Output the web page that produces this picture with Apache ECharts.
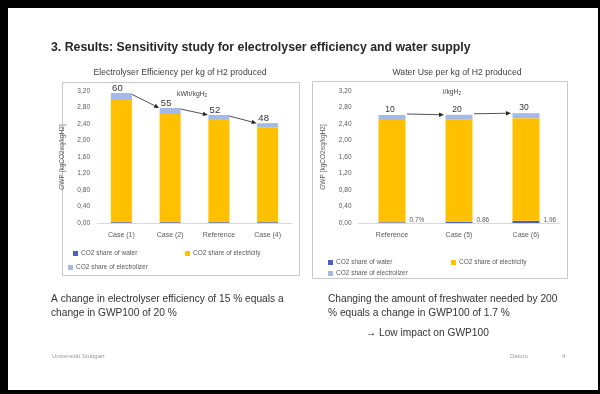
<!DOCTYPE html>
<html>
<head>
<meta charset="utf-8">
<script src="https://cdn.jsdelivr.net/npm/echarts@6/dist/echarts.min.js"></script>
<style>
html, body { margin: 0; padding: 0; background: #fff; }
#main { width: 600px; height: 394px; }
</style>
</head>
<body>
<div id="main"></div>
<script>
// electrolyser efficiency chart
var effCats = ['Case (1)', 'Case (2)', 'Reference', 'Case (4)'];
var effWater = [0.02, 0.02, 0.02, 0.02];
var effElectricity = [2.96, 2.62, 2.48, 2.30];
var effElectrolizer = [0.17, 0.15, 0.12, 0.10];
var effLabels = ['60', '55', '52', '48'];

// water use chart
var waterCats = ['Reference', 'Case (5)', 'Case (6)'];
var wWater = [0.018, 0.023, 0.052];
var wElectricity = [2.48, 2.48, 2.49];
var wElectrolizer = [0.12, 0.12, 0.12];
var wLabels = ['10', '20', '30'];
var wPctLabels = ['0.7%', '0.86', '1.96'];

var yMin = 0, yMax = 3.2, yStep = 0.4;

var chart = echarts.init(document.getElementById('main'));
var gray = '#595959';
var font = 'Liberation Sans';
var cOrange = '#FFC000', cLight = '#A3B9E8', cWater = '#4A5FC8';

function fmt(v) { return v.toFixed(2).replace('.', ','); }

function xAx(idx, cats) {
  return {
    type: 'category', gridIndex: idx, data: cats,
    axisLine: { lineStyle: { color: '#d9d9d9' } },
    axisTick: { show: false },
    axisLabel: { color: gray, fontSize: 7, fontFamily: font, margin: 9 }
  };
}
function yAx(idx, gap) {
  return {
    type: 'value', gridIndex: idx, min: yMin, max: yMax, interval: yStep,
    name: 'GWP [kgCO2eq/kgH2]', nameLocation: 'middle', nameGap: gap,
    nameTextStyle: { color: gray, fontSize: 6.5, fontFamily: font },
    axisLine: { show: false }, axisTick: { show: false }, splitLine: { show: false },
    axisLabel: { color: gray, fontSize: 6.5, fontFamily: font, margin: 7, formatter: fmt }
  };
}
function legendAt(name, left, top) {
  return {
    data: [name], left: left, top: top, orient: 'horizontal',
    itemWidth: 5, itemHeight: 5, itemGap: 2, padding: 0,
    icon: 'rect',
    textStyle: { color: gray, fontSize: 6.5, fontFamily: font, padding: [0, 0, 0, -2] }
  };
}

var bodyFont = '10.2px "Liberation Sans"';
var elements = [
  // slide frame
  { type: 'rect', shape: { x: 0, y: 0, width: 600, height: 8 }, style: { fill: '#000' } },
  { type: 'rect', shape: { x: 0, y: 0, width: 8, height: 394 }, style: { fill: '#000' } },
  { type: 'rect', shape: { x: 0, y: 390, width: 600, height: 4 }, style: { fill: '#000' } },
  { type: 'rect', shape: { x: 598, y: 0, width: 2, height: 394 }, style: { fill: '#000' } },
  // chart boxes
  { type: 'rect', z: -1, shape: { x: 62.5, y: 82.5, width: 237, height: 193 }, style: { fill: 'none', stroke: '#c8c8c8', lineWidth: 1 } },
  { type: 'rect', z: -1, shape: { x: 312.5, y: 81.5, width: 255, height: 197 }, style: { fill: 'none', stroke: '#c8c8c8', lineWidth: 1 } },
  // titles
  { type: 'text', x: 51, y: 48, style: { text: '3. Results: Sensitivity study for electrolyser efficiency and water supply', fill: '#262626', font: 'bold 12.3px "Liberation Sans"', verticalAlign: 'middle' } },
  { type: 'text', x: 180, y: 73, style: { text: 'Electrolyser Efficiency per kg of H2 produced', fill: '#404040', font: '8.7px "Liberation Sans"', align: 'center', verticalAlign: 'middle' } },
  { type: 'text', x: 457, y: 73, style: { text: 'Water Use per kg of H2 produced', fill: '#404040', font: '8.7px "Liberation Sans"', align: 'center', verticalAlign: 'middle' } },
  // units
  { type: 'text', x: 177, y: 94, style: { text: '{a|kWh/kgH}{b|2}', rich: { a: { fill: '#404040', fontSize: 6.8, fontFamily: font }, b: { fill: '#404040', fontSize: 4.5, fontFamily: font, padding: [4, 0, 0, 0] } }, verticalAlign: 'middle' } },
  { type: 'text', x: 443, y: 92, style: { text: '{a|l/kgH}{b|2}', rich: { a: { fill: '#404040', fontSize: 6.8, fontFamily: font }, b: { fill: '#404040', fontSize: 4.5, fontFamily: font, padding: [4, 0, 0, 0] } }, verticalAlign: 'middle' } },
  // body text
  { type: 'text', x: 51, y: 299, style: { text: 'A change in electrolyser efficiency of 15 % equals a', fill: '#333', font: bodyFont, verticalAlign: 'middle' } },
  { type: 'text', x: 51, y: 313, style: { text: 'change in GWP100 of 20 %', fill: '#333', font: bodyFont, verticalAlign: 'middle' } },
  { type: 'text', x: 328, y: 299, style: { text: 'Changing the amount of freshwater needed by 200', fill: '#333', font: bodyFont, verticalAlign: 'middle' } },
  { type: 'text', x: 328, y: 313, style: { text: '% equals a change in GWP100 of 1.7 %', fill: '#333', font: bodyFont, verticalAlign: 'middle' } },
  { type: 'text', x: 366, y: 333, style: { text: '\u2192 Low impact on GWP100', fill: '#333', font: bodyFont, verticalAlign: 'middle' } },
  // footer
  { type: 'text', x: 52, y: 356, style: { text: 'Universität Stuttgart', fill: '#9a9a9a', font: '6px "Liberation Sans"', verticalAlign: 'middle' } },
  { type: 'text', x: 510, y: 356, style: { text: 'Datum', fill: '#9a9a9a', font: '6px "Liberation Sans"', verticalAlign: 'middle' } },
  { type: 'text', x: 562, y: 356, style: { text: '4', fill: '#9a9a9a', font: '6px "Liberation Sans"', verticalAlign: 'middle' } }
];

var option = {
  animation: false,
  backgroundColor: '#fff',
  grid: [
    { left: 97, top: 91, width: 195, height: 132 },
    { left: 358.5, top: 91, width: 201, height: 132 }
  ],
  xAxis: [xAx(0, effCats), xAx(1, waterCats)],
  yAxis: [yAx(0, 31), yAx(1, 32)],
  legend: [
    legendAt('CO2 share of water', 73, 250),
    legendAt('CO2 share of electricity', 185, 250),
    legendAt('CO2 share of electrolizer', 68, 264),
    legendAt('CO2 share of water', 328, 259),
    legendAt('CO2 share of electricity', 451, 259),
    legendAt('CO2 share of electrolizer', 328, 270)
  ],
  series: [
    { name: 'CO2 share of water', type: 'bar', stack: 'e', xAxisIndex: 0, yAxisIndex: 0, barWidth: 21, data: effWater, itemStyle: { color: cWater } },
    { name: 'CO2 share of electricity', type: 'bar', stack: 'e', xAxisIndex: 0, yAxisIndex: 0, barWidth: 21, data: effElectricity, itemStyle: { color: cOrange } },
    { name: 'CO2 share of electrolizer', type: 'bar', stack: 'e', xAxisIndex: 0, yAxisIndex: 0, barWidth: 21, data: effElectrolizer, itemStyle: { color: cLight },
      label: { show: true, position: 'top', distance: 0, offset: [-4, 0], color: '#333', fontSize: 9.5, fontFamily: font,
        formatter: function (p) { return effLabels[p.dataIndex]; } } },
    { name: 'CO2 share of water', type: 'bar', stack: 'w', xAxisIndex: 1, yAxisIndex: 1, barWidth: 27, data: wWater, itemStyle: { color: cWater },
      label: { show: true, position: 'right', distance: 4, offset: [0, -2], color: gray, fontSize: 6.5, fontFamily: font,
        formatter: function (p) { return wPctLabels[p.dataIndex]; } } },
    { name: 'CO2 share of electricity', type: 'bar', stack: 'w', xAxisIndex: 1, yAxisIndex: 1, barWidth: 27, data: wElectricity, itemStyle: { color: cOrange } },
    { name: 'CO2 share of electrolizer', type: 'bar', stack: 'w', xAxisIndex: 1, yAxisIndex: 1, barWidth: 27, data: wElectrolizer, itemStyle: { color: cLight },
      label: { show: true, position: 'top', distance: 1, offset: [-2, 0], color: '#333', fontSize: 8.5, fontFamily: font,
        formatter: function (p) { return wLabels[p.dataIndex]; } } }
  ],
  graphic: { elements: elements }
};
chart.setOption(option);

// arrows between the bar tops
function arrow(x1, y1, x2, y2) {
  var a = Math.atan2(y2 - y1, x2 - x1), L = 5, W = 2.2;
  var bx = x2 - L * Math.cos(a), by = y2 - L * Math.sin(a);
  var px = -Math.sin(a) * W, py = Math.cos(a) * W;
  elements.push({ type: 'line', shape: { x1: x1, y1: y1, x2: bx, y2: by }, style: { stroke: '#262626', lineWidth: 0.8 } });
  elements.push({ type: 'polygon', shape: { points: [[x2, y2], [bx + px, by + py], [bx - px, by - py]] }, style: { fill: '#262626' } });
}
function tops(grid, water, elec, lyz) {
  return water.map(function (v, i) {
    return chart.convertToPixel({ gridIndex: grid }, [i, v + elec[i] + lyz[i]]);
  });
}
var tA = tops(0, effWater, effElectricity, effElectrolizer);
for (var i = 0; i < tA.length - 1; i++) {
  arrow(tA[i][0] + 10, tA[i][1] + 1, tA[i + 1][0] - 11, tA[i + 1][1]);
}
var tB = tops(1, wWater, wElectricity, wElectrolizer);
for (var j = 0; j < tB.length - 1; j++) {
  arrow(tB[j][0] + 15, tB[j][1] - 1, tB[j + 1][0] - 15, tB[j + 1][1]);
}
chart.setOption({ graphic: { elements: elements } });
</script>
</body>
</html>
